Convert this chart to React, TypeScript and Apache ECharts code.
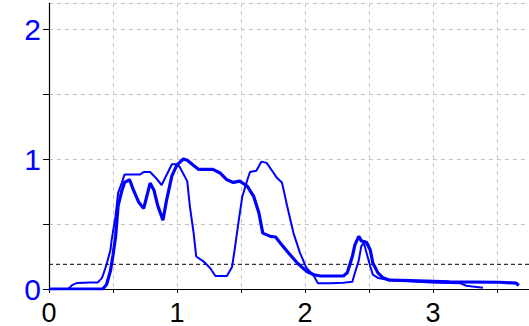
import React, { useEffect, useRef } from "react";
import * as echarts from "echarts";

// Thin curve: [x, y]
const thinX = [0, 0.15, 0.18, 0.22, 0.32, 0.38, 0.41, 0.42, 0.45, 0.48, 0.49, 0.52, 0.54, 0.57, 0.59, 0.71, 0.74, 0.79, 0.83, 0.88, 0.91, 0.96, 1.0, 1.02, 1.08, 1.1, 1.13, 1.15, 1.21, 1.26, 1.3, 1.39, 1.43, 1.45, 1.48, 1.51, 1.55, 1.57, 1.62, 1.66, 1.7, 1.75, 1.78, 1.82, 1.86, 1.91, 1.96, 2.01, 2.07, 2.1, 2.2, 2.3, 2.37, 2.39, 2.42, 2.44, 2.46, 2.48, 2.51, 2.53, 2.57, 2.66, 2.82, 2.98, 3.21, 3.26, 3.39];
const thinY = [0, 0, 0.03, 0.047, 0.05, 0.05, 0.08, 0.1, 0.19, 0.3, 0.38, 0.56, 0.74, 0.82, 0.88, 0.88, 0.9, 0.9, 0.86, 0.8, 0.86, 0.96, 0.96, 0.94, 0.83, 0.64, 0.43, 0.25, 0.21, 0.16, 0.1, 0.1, 0.17, 0.3, 0.51, 0.71, 0.84, 0.9, 0.91, 0.98, 0.97, 0.9, 0.855, 0.82, 0.64, 0.43, 0.28, 0.165, 0.1, 0.045, 0.045, 0.048, 0.055, 0.125, 0.22, 0.33, 0.355, 0.28, 0.175, 0.11, 0.085, 0.07, 0.06, 0.05, 0.045, 0.025, 0.01];

// Thick curve: [x, y]
const thickX = [0, 0.42, 0.45, 0.48, 0.5, 0.52, 0.54, 0.57, 0.59, 0.63, 0.66, 0.7, 0.74, 0.79, 0.82, 0.85, 0.89, 0.92, 0.96, 1.0, 1.05, 1.08, 1.13, 1.17, 1.28, 1.34, 1.39, 1.44, 1.49, 1.55, 1.6, 1.64, 1.67, 1.73, 1.77, 1.81, 1.86, 1.94, 2.01, 2.07, 2.12, 2.3, 2.33, 2.37, 2.39, 2.42, 2.44, 2.48, 2.51, 2.53, 2.57, 2.61, 2.66, 2.82, 3.13, 3.52, 3.65, 3.67];
const thickY = [0, 0, 0.035, 0.14, 0.26, 0.4, 0.64, 0.76, 0.82, 0.84, 0.76, 0.67, 0.62, 0.815, 0.76, 0.64, 0.53, 0.69, 0.87, 0.955, 1.0, 0.99, 0.95, 0.92, 0.92, 0.89, 0.84, 0.82, 0.83, 0.79, 0.71, 0.585, 0.43, 0.405, 0.4, 0.35, 0.29, 0.2, 0.137, 0.11, 0.1, 0.1, 0.125, 0.25, 0.34, 0.405, 0.37, 0.36, 0.3, 0.2, 0.124, 0.086, 0.068, 0.064, 0.055, 0.052, 0.045, 0.027];

const threshold = 0.19;
const xTickLabels = ["0", "1", "2", "3"];
const yTickLabels = ["0", "1", "2"];

const X_MAX = 3.75;
const Y_MAX = 2.2;

export default function App() {
  const ref = useRef<HTMLDivElement>(null);
  useEffect(() => {
    if (!ref.current) return;
    const chart = echarts.init(ref.current, null, { renderer: "svg" });
    const zip = (xs: number[], ys: number[]) => xs.map((x, i) => [x, ys[i]]);
    const fmt = (labels: string[]) => (v: number) => {
      const s = String(Math.round(v));
      return Math.abs(v - Math.round(v)) < 1e-6 && labels.includes(s) ? s : "";
    };
    const gridStyle = { color: "#c4c4c4", type: [4, 4] as any, width: 1 };
    chart.setOption({
      animation: false,
      grid: { left: 49, right: 0, top: 3, bottom: 36.5, containLabel: false },
      xAxis: {
        type: "value",
        min: 0,
        max: X_MAX,
        interval: 0.5,
        axisLine: { show: true, onZero: false, lineStyle: { color: "#000", width: 1.2 } },
        axisTick: { show: true, length: 4, lineStyle: { color: "#000" } },
        axisLabel: {
          margin: 10,
          fontSize: 27,
          color: "#000",
          fontFamily: "Liberation Sans, Arial, sans-serif",
          formatter: fmt(xTickLabels),
          showMaxLabel: false,
        },
        splitLine: { show: true, lineStyle: gridStyle },
      },
      yAxis: {
        type: "value",
        min: 0,
        max: Y_MAX,
        interval: 0.5,
        axisLine: { show: true, onZero: false, lineStyle: { color: "#000", width: 1.2 } },
        axisTick: { show: true, length: 6, lineStyle: { color: "#000" } },
        axisLabel: {
          margin: 8,
          fontSize: 30,
          color: "#0000ff",
          fontFamily: "Liberation Sans, Arial, sans-serif",
          formatter: fmt(yTickLabels),
          showMaxLabel: false,
        },
        splitLine: { show: true, lineStyle: gridStyle },
      },
      series: [
        {
          type: "line",
          data: [[0, threshold], [X_MAX, threshold]],
          showSymbol: false,
          silent: true,
          lineStyle: { color: "#000", width: 1, type: [4, 3] },
          z: 1,
        },
        {
          type: "line",
          data: zip(thinX, thinY),
          showSymbol: false,
          lineStyle: { color: "#0000ff", width: 2 },
          z: 3,
        },
        {
          type: "line",
          data: zip(thickX, thickY),
          showSymbol: false,
          lineStyle: { color: "#0000ff", width: 3.2 },
          z: 4,
        },
      ],
    });
    return () => chart.dispose();
  }, []);
  return (
    <div
      ref={ref}
      style={{ position: "fixed", left: 0, top: 0, width: 529, height: 326, background: "#fff" }}
    />
  );
}
